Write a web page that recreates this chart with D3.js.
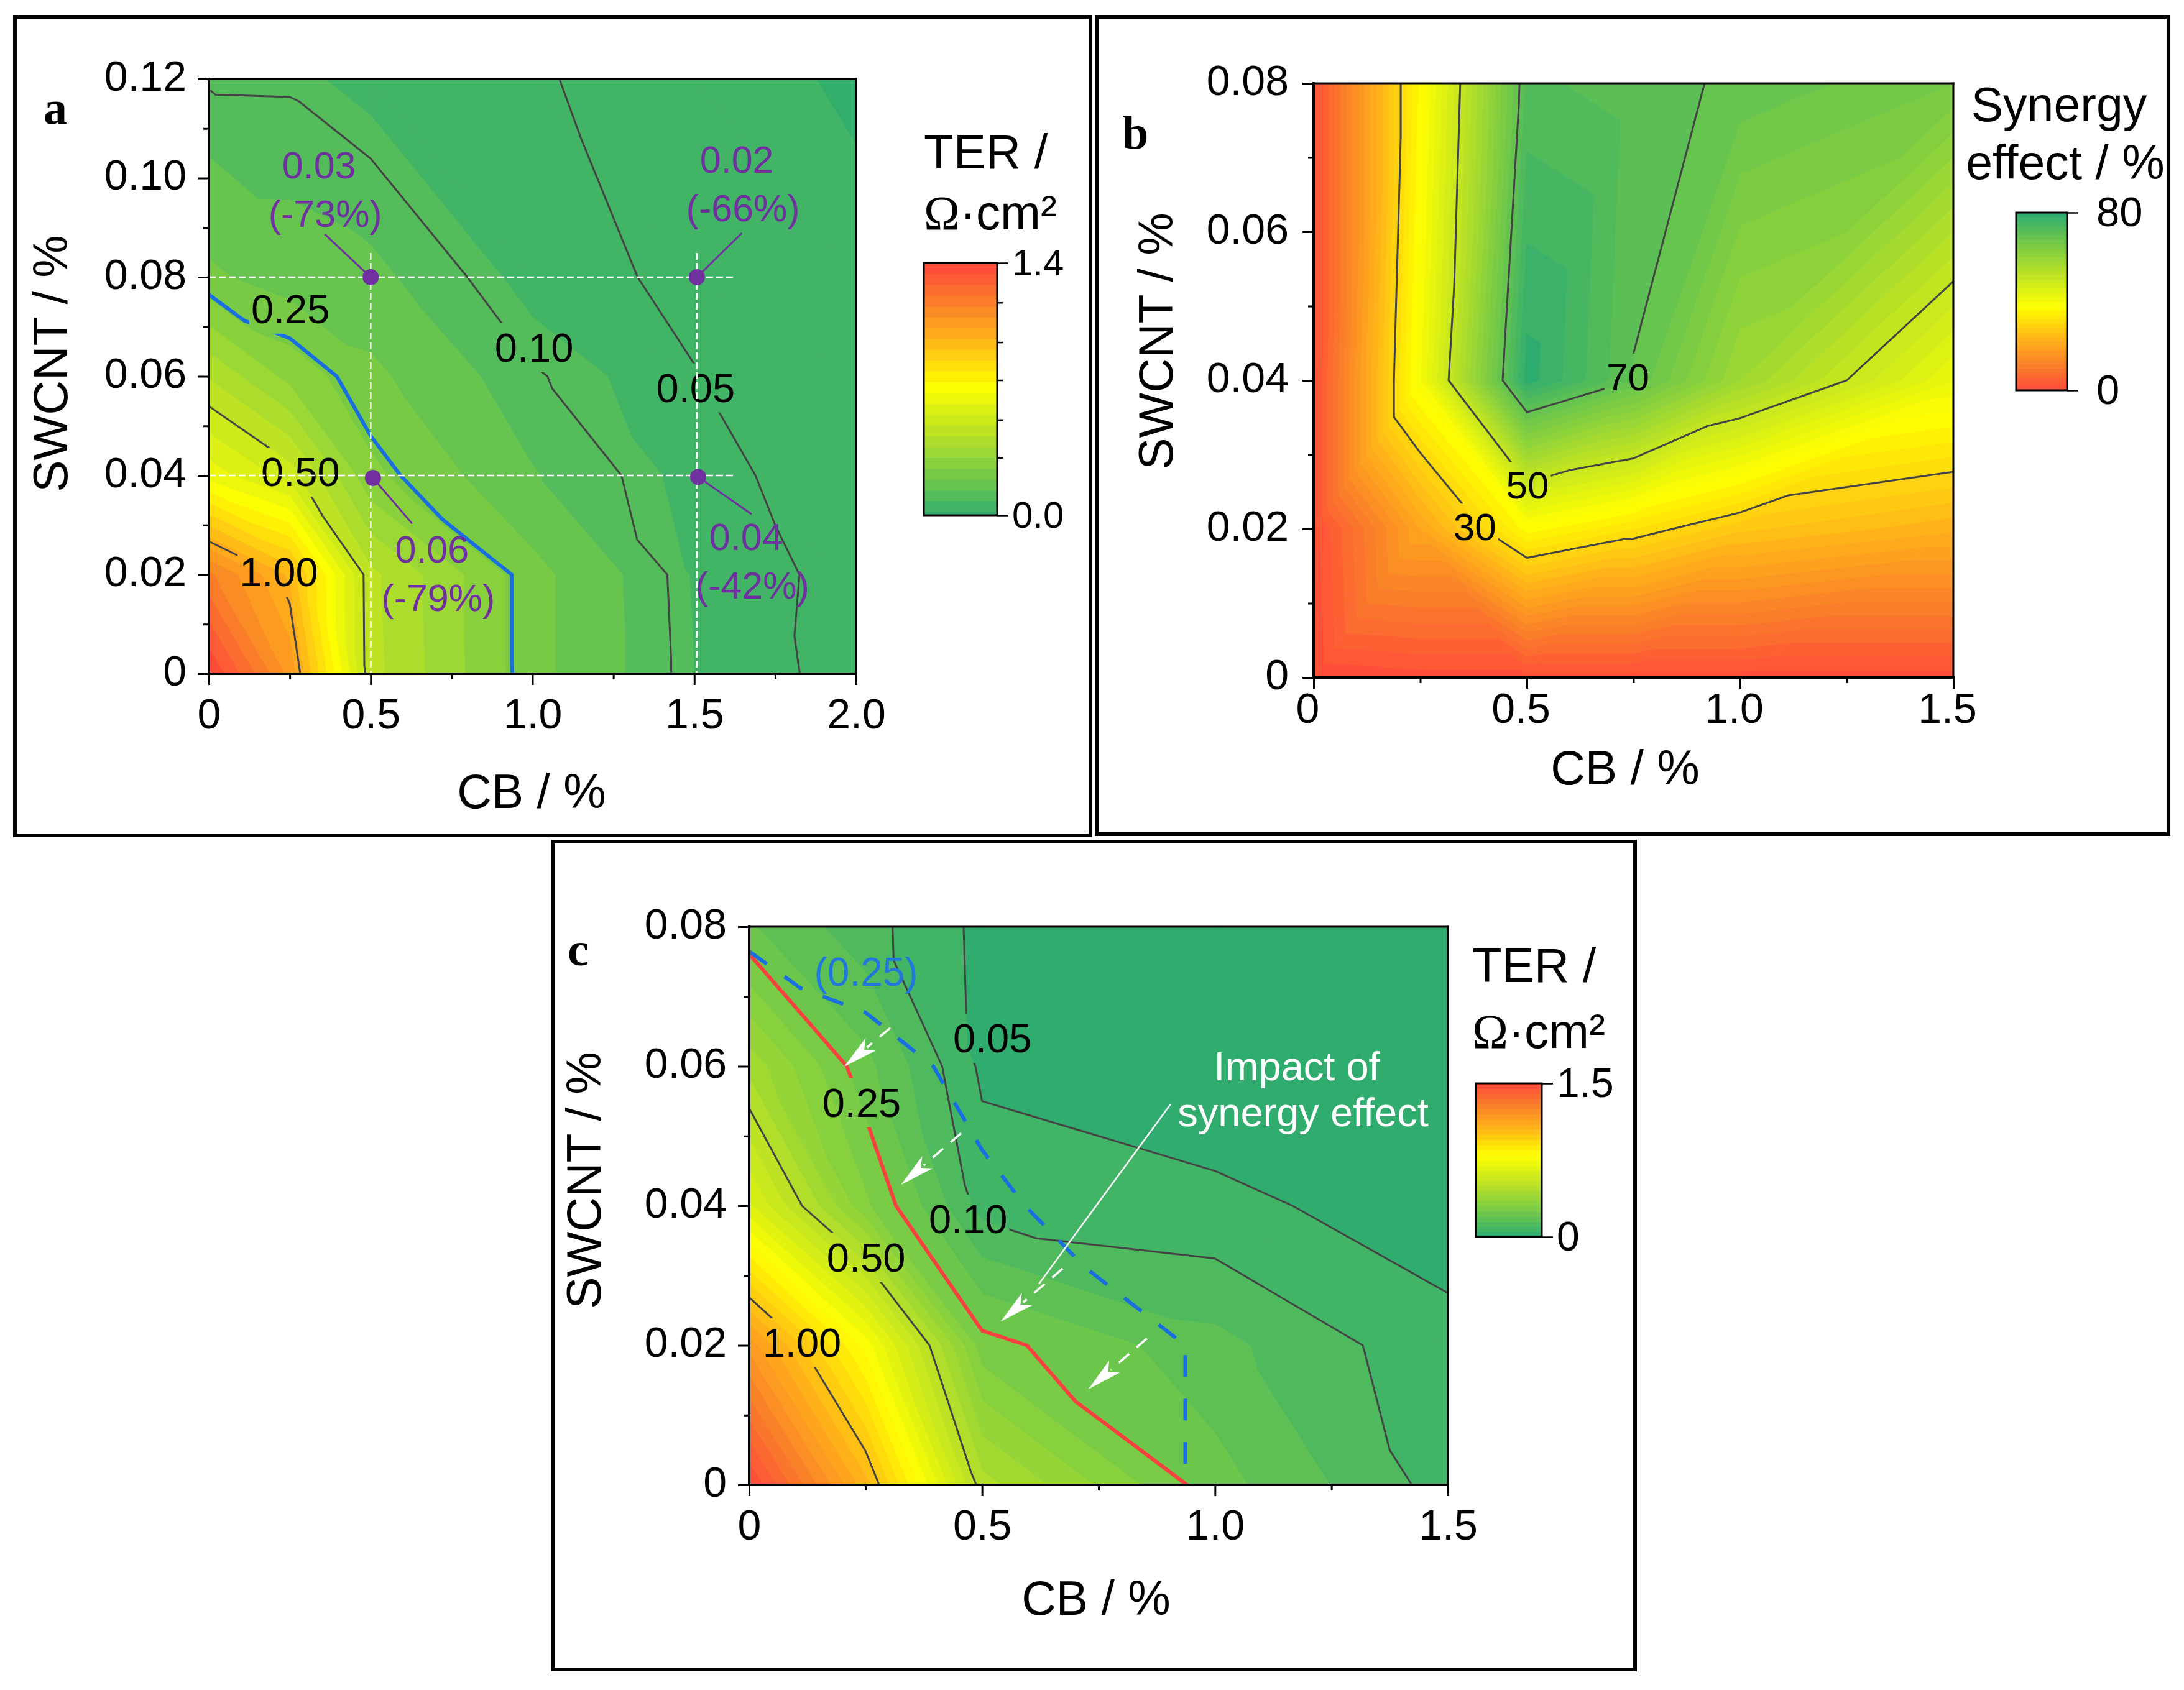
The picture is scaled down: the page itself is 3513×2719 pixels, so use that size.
<!DOCTYPE html>
<html>
<head>
<meta charset="utf-8">
<script src="https://cdn.jsdelivr.net/npm/d3@7"></script>
<style>
  html, body { margin: 0; padding: 0; background: #fff; }
  svg { font-family: "Liberation Sans", Arial, sans-serif; }
</style>
</head>
<body>
<svg id="chart" width="3513" height="2719"></svg>
<script>
// TER panel a
const cbA = [0, 0.25, 0.5, 1, 1.5, 2];
const swcntA = [0, 0.02, 0.04, 0.06, 0.08, 0.12];
const terA = [
  [1.40, 1.08, 0.46, 0.22, 0.08, 0.034],
  [1.174, 0.967, 0.455, 0.22, 0.076, 0.036],
  [0.655, 0.53, 0.274, 0.144, 0.064, 0.027],
  [0.433, 0.30, 0.214, 0.105, 0.051, 0.035],
  [0.211, 0.17, 0.155, 0.063, 0.043, 0.03],
  [0.094, 0.093, 0.063, 0.053, 0.035, 0.015]
];

// synergy effect panel b
const cbB = [0, 0.25, 0.5, 0.75, 1, 1.5];
const swcntB = [0, 0.02, 0.04, 0.08];
const synergyB = [
  [0, 1, 1, 1, 1, 1],
  [1, 20, 37, 32, 26.5, 22.5],
  [1, 39.5, 79, 69.9, 58, 42],
  [1, 36.5, 72.5, 71, 69.5, 66]
];
// cells of panel b split along the other diagonal, as [cb index, swcnt index]
const flippedB = [[1, 0], [1, 1]];

// TER panel c
const cbC = [0, 0.25, 0.5, 1, 1.5];
const swcntC = [0, 0.02, 0.04, 0.06, 0.08];
const terC = [
  [1.5, 1.07, 0.47, 0.22, 0.078],
  [1.18, 0.78, 0.27, 0.166, 0.062],
  [0.658, 0.31, 0.08, 0.06, 0.03],
  [0.432, 0.215, 0.04, 0.02, 0.015],
  [0.206, 0.119, 0.037, 0.02, 0.015]
];

// contour labels: text, cb, swcnt
const labelsA = [['0.25', 0.252, 0.0736], ['0.50', 0.283, 0.0407], ['1.00', 0.216, 0.0205], ['0.10', 1.005, 0.0658], ['0.05', 1.504, 0.0577]];
const labelsB = [['70', 0.737, 0.0405], ['50', 0.5015, 0.0259], ['30', 0.378, 0.0203]];
const labelsC = [['0.25', 0.2415, 0.0548], ['0.05', 0.522, 0.064], ['0.10', 0.47, 0.0381], ['0.50', 0.251, 0.0326], ['1.00', 0.1134, 0.0204]];

// measured points in panel a: value, change, point, leader end, text centre
const pointsA = [
  ['0.03', '(-73%)', [0.5, 0.08], [0.358, 0.0887], [0.35, 0.0977]],
  ['0.06', '(-79%)', [0.507, 0.0395], [0.628, 0.0303], [0.699, 0.0202]],
  ['0.02', '(-66%)', [1.508, 0.08], [1.647, 0.0889], [1.641, 0.0988]],
  ['0.04', '(-42%)', [1.512, 0.0397], [1.677, 0.0322], [1.67, 0.0227]]
];

// white arrows in panel c: from, to
const arrowsC = [
  [[0.303, 0.0655], [0.204, 0.05996]],
  [[0.455, 0.0504], [0.326, 0.043]],
  [[0.673, 0.031], [0.54, 0.0234]],
  [[0.854, 0.021], [0.728, 0.0137]]
];
const impactLineC = [[0.905, 0.0546], [0.622, 0.0288]];

// shared colour ramp, 0 = green end, 1 = red end
const rampStops = [0, 0.05, 0.15, 0.35, 0.53, 0.72, 0.85, 1];
const rampColors = ['#28a972', '#41b466', '#6cc64b', '#bde324', '#ffff00', '#ffb01a', '#f98228', '#ff4a3a'];
const ramp = d3.scaleLinear().domain(rampStops).range(rampColors).interpolate(d3.interpolateRgb);

const bandsA = [0].concat(d3.range(0.02, 1.39, 0.06), [1.4]);
const bandsB = d3.range(0, 81, 2);
const bandsC = d3.range(0, 1.51, 0.05);

const svg = d3.select('#chart');
const sans = '"Liberation Sans", Arial, sans-serif';
const serif = '"Liberation Serif", "Times New Roman", serif';

// split the grid into triangles, anti = diagonal from lower left to upper right
function triangles(xs, ys, zs, anti, flipped = []) {
  const out = [];
  for (let j = 0; j < ys.length - 1; j++) {
    for (let i = 0; i < xs.length - 1; i++) {
      const ll = [xs[i], ys[j], zs[j][i]];
      const lr = [xs[i + 1], ys[j], zs[j][i + 1]];
      const ul = [xs[i], ys[j + 1], zs[j + 1][i]];
      const ur = [xs[i + 1], ys[j + 1], zs[j + 1][i + 1]];
      const flip = flipped.some((c) => c[0] === i && c[1] === j);
      if (anti !== flip) out.push([ll, ul, ur], [ll, lr, ur]);
      else out.push([ul, ll, lr], [ul, ur, lr]);
    }
  }
  return out;
}

function clipAbove(poly, level, sign) {
  const out = [];
  poly.forEach((p, i) => {
    const q = poly[(i + 1) % poly.length];
    const pIn = sign * (p[2] - level) >= 0;
    const qIn = sign * (q[2] - level) >= 0;
    if (pIn) out.push(p);
    if (pIn !== qIn) {
      const t = (level - p[2]) / (q[2] - p[2]);
      out.push([p[0] + t * (q[0] - p[0]), p[1] + t * (q[1] - p[1]), level]);
    }
  });
  return out;
}

function contourLines(tris, level) {
  const segs = [];
  tris.forEach((tri) => {
    const pts = [];
    tri.forEach((p, i) => {
      const q = tri[(i + 1) % 3];
      if ((p[2] < level) !== (q[2] < level)) {
        const t = (level - p[2]) / (q[2] - p[2]);
        pts.push([p[0] + t * (q[0] - p[0]), p[1] + t * (q[1] - p[1])]);
      }
    });
    if (pts.length === 2) segs.push(pts);
  });
  // link the pieces so dashes run on along the line
  const key = (p) => p[0].toFixed(5) + ',' + p[1].toFixed(5);
  const lines = [];
  while (segs.length) {
    const line = segs.pop();
    let grown = true;
    while (grown) {
      grown = false;
      for (let i = 0; i < segs.length; i++) {
        const [a, b] = segs[i];
        const head = key(line[0]);
        const tail = key(line[line.length - 1]);
        if (key(a) === tail) line.push(b);
        else if (key(b) === tail) line.push(a);
        else if (key(a) === head) line.unshift(b);
        else if (key(b) === head) line.unshift(a);
        else continue;
        segs.splice(i, 1);
        grown = true;
        break;
      }
    }
    if (line[0][0] > line[line.length - 1][0]) line.reverse();
    lines.push(line);
  }
  return lines;
}

function addMask(id, labelNodes, pad) {
  const mask = svg.append('mask').attr('id', id)
    .attr('maskUnits', 'userSpaceOnUse')
    .attr('x', 0).attr('y', 0).attr('width', 3513).attr('height', 2719);
  mask.append('rect').attr('width', 3513).attr('height', 2719).attr('fill', '#fff');
  labelNodes.forEach((node) => {
    const box = node.getBBox();
    mask.append('rect')
      .attr('x', box.x - pad).attr('y', box.y - pad)
      .attr('width', box.width + pad * 2).attr('height', box.height + pad * 2)
      .attr('fill', '#000');
  });
}

function drawAxes(g, p) {
  const xAxis = d3.axisBottom(p.x).tickValues(p.xTicks).tickSize(18).tickPadding(p.xPad)
    .tickFormat((d) => (d === 0 ? '0' : d3.format('.1f')(d)));
  const gx = g.append('g').attr('transform', `translate(0,${p.y.range()[0]})`).call(xAxis);
  const gxMinor = g.append('g').attr('transform', `translate(0,${p.y.range()[0]})`)
    .call(d3.axisBottom(p.x).tickValues(p.xMinor).tickSize(9).tickFormat(''));
  const yAxis = d3.axisLeft(p.y).tickValues(p.yTicks).tickSize(18).tickPadding(p.yPad)
    .tickFormat((d) => (d === 0 ? '0' : d3.format('.2f')(d)));
  const gy = g.append('g').attr('transform', `translate(${p.x.range()[0]},0)`).call(yAxis);
  const gyMinor = g.append('g').attr('transform', `translate(${p.x.range()[0]},0)`)
    .call(d3.axisLeft(p.y).tickValues(p.yMinor).tickSize(9).tickFormat(''));
  [gx, gxMinor, gy, gyMinor].forEach((a) => {
    a.select('.domain').remove();
    a.selectAll('line').attr('stroke', '#000').attr('stroke-width', 3);
    a.selectAll('text').attr('font-family', sans).attr('font-size', 68).attr('fill', '#000');
  });
  gx.selectAll('text').attr('dx', p.xLabelDx || 0);
  gy.selectAll('text').attr('dy', '0.27em');

  const [x0, x1] = p.x.range();
  const [y0, y1] = p.y.range();
  const spine = (a, b, c, d, w) => g.append('line').attr('x1', a).attr('y1', b).attr('x2', c).attr('y2', d)
    .attr('stroke', '#000').attr('stroke-width', w).attr('stroke-linecap', 'square');
  spine(x0, y1, x1, y1, 3);
  spine(x1, y1, x1, y0, 3);
  spine(x0, y1, x0, y0, 4);
  spine(x0, y0, x1, y0, 4);

  g.append('text').attr('x', p.xTitle[0]).attr('y', p.xTitle[1])
    .attr('text-anchor', 'middle').attr('font-size', 77).text('CB / %');
  g.append('text')
    .attr('transform', `translate(${p.yTitle[0]},${p.yTitle[1]}) rotate(-90)`)
    .attr('text-anchor', 'middle').attr('font-size', 77).text('SWCNT / %');
  g.append('text').attr('x', p.letter[1]).attr('y', p.letter[2])
    .attr('font-family', serif).attr('font-weight', 'bold').attr('font-size', 76).text(p.letter[0]);
}

function drawBands(g, tris, p) {
  const gBands = g.append('g');
  p.bands.slice(0, -1).forEach((lo, i) => {
    const hi = p.bands[i + 1];
    const col = p.color((lo + hi) / 2);
    tris.forEach((tri) => {
      let poly = clipAbove(tri, lo, 1);
      if (poly.length) poly = clipAbove(poly, hi, -1);
      if (poly.length < 3) return;
      gBands.append('path')
        .attr('d', d3.line().x((d) => p.x(d[0])).y((d) => p.y(d[1]))(poly) + 'Z')
        .attr('fill', col).attr('stroke', col).attr('stroke-width', 1);
    });
  });
}

function drawColorbar(g, c) {
  const scale = d3.scaleLinear().domain(c.domain).range([c.box[3], c.box[1]]);
  c.bands.slice(0, -1).forEach((lo, i) => {
    const hi = c.bands[i + 1];
    const top = scale(hi);
    g.append('rect').attr('x', c.box[0]).attr('y', top)
      .attr('width', c.box[2] - c.box[0]).attr('height', scale(lo) - top + 0.6)
      .attr('fill', c.color((lo + hi) / 2));
  });
  g.append('rect').attr('x', c.box[0]).attr('y', c.box[1])
    .attr('width', c.box[2] - c.box[0]).attr('height', c.box[3] - c.box[1])
    .attr('fill', 'none').attr('stroke', '#000').attr('stroke-width', 3);
  const axis = g.append('g').attr('transform', `translate(${c.box[2]},0)`)
    .call(d3.axisRight(scale).tickValues(c.ticks).tickSize(18).tickPadding(c.pad)
      .tickFormat((d, i) => c.tickLabels[i]));
  axis.select('.domain').remove();
  axis.selectAll('line').attr('stroke', '#000').attr('stroke-width', 2.5);
  axis.selectAll('text').attr('font-family', sans).attr('font-size', c.size).attr('fill', '#000');
  if (c.minor) {
    const minor = g.append('g').attr('transform', `translate(${c.box[2]},0)`)
      .call(d3.axisRight(scale).tickValues(c.minor).tickSize(9).tickFormat(''));
    minor.select('.domain').remove();
    minor.selectAll('line').attr('stroke', '#000').attr('stroke-width', 2.5);
  }
}

function terTitle(g, x, y1, y2) {
  g.append('text').attr('x', x).attr('y', y1).attr('font-size', 78).text('TER /');
  const t = g.append('text').attr('x', x).attr('y', y2).attr('font-size', 78);
  t.append('tspan').attr('font-family', serif).text('\u03A9');
  t.append('tspan').text('\u00B7cm\u00B2');
}

function contourLabels(g, list, p, size) {
  return list.map((d) => g.append('text')
    .attr('x', p.x(d[1])).attr('y', p.y(d[2])).attr('dy', '0.35em')
    .attr('text-anchor', 'middle').attr('font-size', size).attr('fill', '#000')
    .text(d[0]).node());
}

const pathOf = (p) => d3.line().x((d) => p.x(d[0])).y((d) => p.y(d[1]));

function strokeLines(g, lines, p, color, width) {
  return g.selectAll(null).data(lines).enter().append('path')
    .attr('d', pathOf(p)).attr('fill', 'none')
    .attr('stroke', color).attr('stroke-width', width)
    .attr('stroke-linejoin', 'round');
}

[[24, 27, 1754, 1344], [1764, 27, 3488, 1342], [889, 1354, 2630, 2686]].forEach((f) => {
  svg.append('rect').attr('x', f[0]).attr('y', f[1]).attr('width', f[2] - f[0]).attr('height', f[3] - f[1])
    .attr('fill', '#fff').attr('stroke', '#000').attr('stroke-width', 6);
});

const trisA = triangles(cbA, swcntA, terA, false);
const trisB = triangles(cbB, swcntB, synergyB, true, flippedB);
const trisC = triangles(cbC, swcntC, terC, false);

// ---- panel a
const pA = {
  x: d3.scaleLinear().domain([0, 2]).range([336, 1377]),
  y: d3.scaleLinear().domain([0, 0.12]).range([1084, 127]),
  xTicks: [0, 0.5, 1, 1.5, 2], xMinor: [0.25, 0.75, 1.25, 1.75],
  yTicks: [0, 0.02, 0.04, 0.06, 0.08, 0.1, 0.12], yMinor: [0.01, 0.03, 0.05, 0.07, 0.09, 0.11],
  xPad: 22, yPad: 18, xTitle: [855, 1300], yTitle: [108, 585], letter: ['a', 70, 199],
  bands: bandsA, color: (v) => ramp(v / 1.4 + 0.015)
};
const gA = svg.append('g');
drawBands(gA, trisA, pA);
const nodesA = contourLabels(gA, labelsA, pA, 65);
addMask('maskA', nodesA, 3);
const linesA = gA.append('g').attr('mask', 'url(#maskA)');
[0.05, 0.1, 0.5, 1].forEach((lv) => strokeLines(linesA, contourLines(trisA, lv), pA, '#444', 3));
strokeLines(linesA, contourLines(trisA, 0.25), pA, '#1a6fe0', 6);

// white guides through the measured points
[[[0, 0.08], [1.627, 0.08]], [[0, 0.04], [1.627, 0.04]], [[0.5, 0.0849], [0.5, -0.0024]], [[1.508, 0.0849], [1.508, 0]]].forEach((s) => {
  gA.append('path').datum(s).attr('d', pathOf(pA)).attr('fill', 'none')
    .attr('stroke', '#fff').attr('stroke-width', 2.5).attr('stroke-dasharray', '11,5');
});
pointsA.forEach((d) => {
  gA.append('path').datum([d[2], d[3]]).attr('d', pathOf(pA)).attr('stroke', '#7030a0').attr('stroke-width', 3).attr('fill', 'none');
  gA.append('circle').attr('cx', pA.x(d[2][0])).attr('cy', pA.y(d[2][1])).attr('r', 13).attr('fill', '#7030a0');
  gA.append('text').attr('x', pA.x(d[4][0]) - 5).attr('y', pA.y(d[4][1]) - 39).attr('dy', '0.35em')
    .attr('text-anchor', 'middle').attr('font-size', 61).attr('fill', '#7030a0').text(d[0]);
  gA.append('text').attr('x', pA.x(d[4][0]) + 5).attr('y', pA.y(d[4][1]) + 39).attr('dy', '0.35em')
    .attr('text-anchor', 'middle').attr('font-size', 61).attr('fill', '#7030a0').text(d[1]);
});
drawAxes(gA, pA);
terTitle(gA, 1486, 271, 369);
drawColorbar(gA, {
  domain: [0, 1.4], box: [1486, 423, 1604, 829], bands: bandsA, color: pA.color,
  ticks: [0, 1.4], tickLabels: ['0.0', '1.4'], minor: [0.32, 0.53, 0.75, 0.96, 1.18], pad: 6, size: 60
});

// ---- panel b
const pB = {
  x: d3.scaleLinear().domain([0, 1.5]).range([2113, 3142]),
  y: d3.scaleLinear().domain([0, 0.08]).range([1090, 134]),
  xTicks: [0, 0.5, 1, 1.5], xMinor: [0.25, 0.75, 1.25],
  yTicks: [0, 0.02, 0.04, 0.06, 0.08], yMinor: [0.01, 0.03, 0.05, 0.07],
  xPad: 7, yPad: 22, xLabelDx: -10, xTitle: [2614, 1262], yTitle: [1886, 549], letter: ['b', 1805, 239],
  bands: bandsB, color: (v) => ramp(1 - v / 80)
};
const gB = svg.append('g');
drawBands(gB, trisB, pB);
const nodesB = contourLabels(gB, labelsB, pB, 62);
addMask('maskB', nodesB, 3);
const linesB = gB.append('g').attr('mask', 'url(#maskB)');
[30, 50, 70].forEach((lv) => strokeLines(linesB, contourLines(trisB, lv), pB, '#444', 3));
drawAxes(gB, pB);
gB.append('text').attr('x', 3312).attr('y', 195).attr('text-anchor', 'middle').attr('font-size', 77).text('Synergy');
gB.append('text').attr('x', 3322).attr('y', 288).attr('text-anchor', 'middle').attr('font-size', 77).text('effect / %');
drawColorbar(gB, {
  domain: [0, 80], box: [3243, 342, 3325, 628], bands: bandsB, color: pB.color,
  ticks: [0, 80], tickLabels: ['0', '80'], pad: 29, size: 67
});

// ---- panel c
const pC = {
  x: d3.scaleLinear().domain([0, 1.5]).range([1205, 2329]),
  y: d3.scaleLinear().domain([0, 0.08]).range([2389, 1491]),
  xTicks: [0, 0.5, 1, 1.5], xMinor: [0.25, 0.75, 1.25],
  yTicks: [0, 0.02, 0.04, 0.06, 0.08], yMinor: [0.01, 0.03, 0.05, 0.07],
  xPad: 22, yPad: 18, xTitle: [1763, 2598], yTitle: [966, 1899], letter: ['c', 913, 1553],
  bands: bandsC, color: (v) => ramp(v / 1.5)
};
const gC = svg.append('g');
drawBands(gC, trisC, pC);
const nodesC = contourLabels(gC, labelsC, pC, 65);
addMask('maskC', nodesC, 3);
const linesC = gC.append('g').attr('mask', 'url(#maskC)');
[0.05, 0.1, 0.5, 1].forEach((lv) => strokeLines(linesC, contourLines(trisC, lv), pC, '#444', 3));
strokeLines(linesC, contourLines(trisC, 0.25), pC, '#f8423f', 6);

// the 0.25 line of panel a, dashed, for comparison
const prevLabel = gC.append('text').attr('x', pC.x(0.251)).attr('y', pC.y(0.0735)).attr('dy', '0.35em')
  .attr('text-anchor', 'middle').attr('font-size', 64).attr('fill', '#2277dd').text('(0.25)');
addMask('maskC2', [prevLabel.node()], 0);
const dashed = gC.append('g').attr('mask', 'url(#maskC2)');
strokeLines(dashed, contourLines(trisA, 0.25), pC, '#1a6fe0', 6).attr('stroke-dasharray', '35,35');

arrowsC.forEach((a) => {
  const [x0, y0] = [pC.x(a[0][0]), pC.y(a[0][1])];
  const [x1, y1] = [pC.x(a[1][0]), pC.y(a[1][1])];
  const ang = Math.atan2(y1 - y0, x1 - x0);
  gC.append('line').attr('x1', x0).attr('y1', y0)
    .attr('x2', x1 - 48 * Math.cos(ang)).attr('y2', y1 - 48 * Math.sin(ang))
    .attr('stroke', '#fff').attr('stroke-width', 3.5).attr('stroke-dasharray', '22,16');
  gC.append('path')
    .attr('d', 'M0,0L-56,-13L-42,0L-56,13Z')
    .attr('transform', `translate(${x1},${y1}) rotate(${ang * 180 / Math.PI})`)
    .attr('fill', '#fff');
});
gC.append('path').datum(impactLineC).attr('d', pathOf(pC)).attr('fill', 'none')
  .attr('stroke', '#fff').attr('stroke-width', 2.5);
gC.append('text').attr('x', 2086).attr('y', 1738).attr('text-anchor', 'middle').attr('font-size', 65).attr('fill', '#fff').text('Impact of');
gC.append('text').attr('x', 2096).attr('y', 1812).attr('text-anchor', 'middle').attr('font-size', 65).attr('fill', '#fff').text('synergy effect');
drawAxes(gC, pC);
terTitle(gC, 2368, 1580, 1686);
drawColorbar(gC, {
  domain: [0, 1.5], box: [2374, 1743, 2480, 1990], bands: bandsC, color: pC.color,
  ticks: [0, 1.5], tickLabels: ['0', '1.5'], pad: 6, size: 66
});
</script>
</body>
</html>
